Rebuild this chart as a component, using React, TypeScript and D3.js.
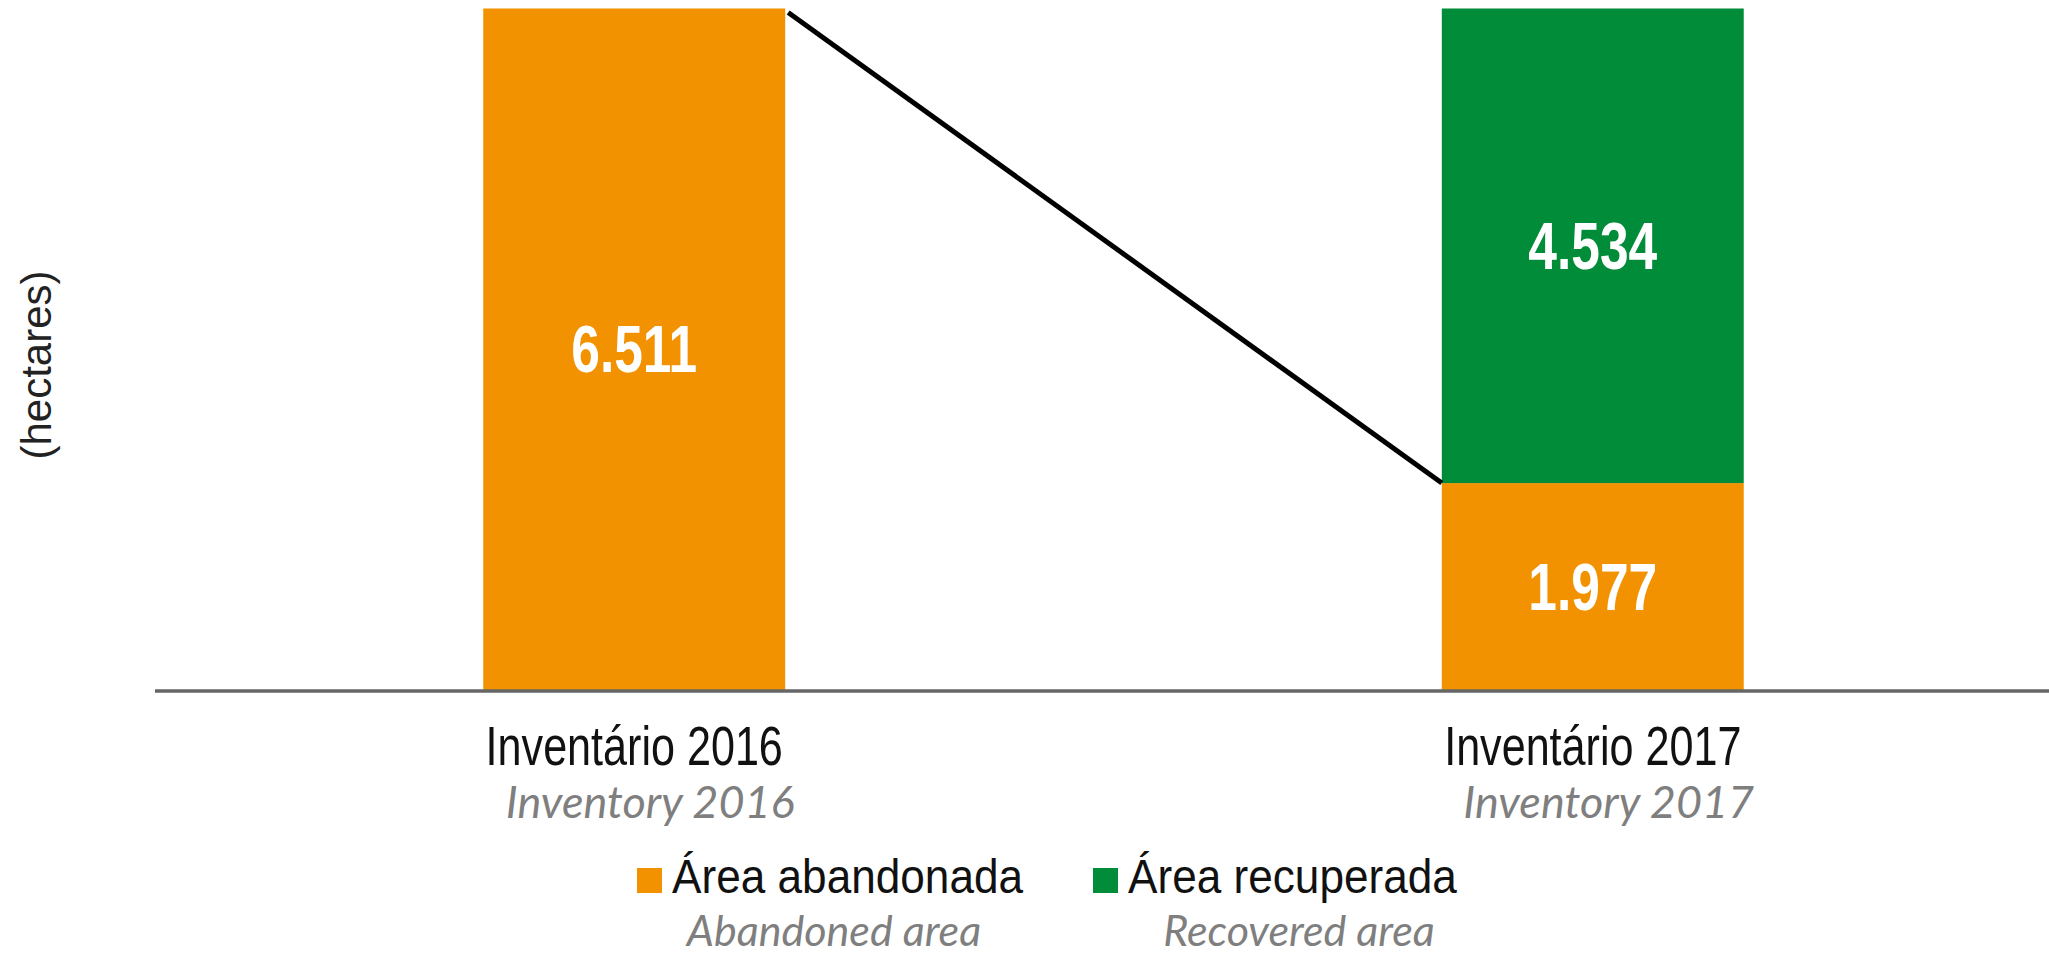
import * as d3 from 'd3';

const categories = ['Inventário 2016', 'Inventário 2017'];
const categoriesEn = ['Inventory 2016', 'Inventory 2017'];
const abandoned = [6511, 1977];
const recovered = [0, 4534];
const seriesKeys = ['abandoned', 'recovered'];
const seriesNames = ['Área abandonada', 'Área recuperada'];
const seriesNamesEn = ['Abandoned area', 'Recovered area'];
const seriesColors = ['#F29200', '#008C38'];

const width = 2049;
const height = 957;
const plotTop = 8.5;
const plotBottom = 690;

const fmt = d3
    .formatLocale({ decimal: ',', thousands: '.', grouping: [3], currency: ['R$', ''] })
    .format(',d');

const App = () => {
    const rows = categories.map((c, i) => ({
        category: c,
        abandoned: abandoned[i],
        recovered: recovered[i],
    }));
    const stacked = d3.stack<any>().keys(seriesKeys)(rows);

    const x = d3
        .scaleBand()
        .domain(categories)
        .range([4, 2223])
        .paddingInner(0.685)
        .paddingOuter(0.5);
    const bw = x.bandwidth();

    const totals = rows.map(r => r.abandoned + r.recovered);
    const y = d3
        .scaleLinear()
        .domain([0, d3.max(totals) ?? 0])
        .range([plotBottom, plotTop]);

    const color = d3.scaleOrdinal<string, string>().domain(seriesKeys).range(seriesColors);

    // connector: top of first bar -> top of abandoned segment in second bar
    const lx1 = (x(categories[0]) ?? 0) + bw + 3;
    const ly1 = y(totals[0]) + 4;
    const lx2 = x(categories[1]) ?? 0;
    const ly2 = y(abandoned[1]);

    const legendX = [637, 1093];
    const legendEnX = [834, 1299];
    const legendGap = 10;
    const sq = 25;

    return (
        <svg
            width={width}
            height={height}
            style={{ position: 'absolute', left: 0, top: 0, background: '#fff' }}
        >
            {/* bars */}
            {stacked.map(layer =>
                layer.map((d, i) =>
                    d[1] - d[0] > 0 ? (
                        <rect
                            key={layer.key + i}
                            x={x(categories[i])}
                            y={y(d[1])}
                            width={bw}
                            height={y(d[0]) - y(d[1])}
                            fill={color(layer.key)}
                        />
                    ) : null
                )
            )}
            {/* value labels */}
            {stacked.map(layer =>
                layer.map((d, i) => {
                    const v = d[1] - d[0];
                    if (v <= 0) return null;
                    const cx = (x(categories[i]) ?? 0) + bw / 2;
                    const cy = (y(d[0]) + y(d[1])) / 2;
                    return (
                        <text
                            key={'v' + layer.key + i}
                            transform={`translate(${cx},${cy + 23}) scale(0.78,1)`}
                            textAnchor="middle"
                            fill="#fff"
                            fontFamily="'Liberation Sans', Arial, sans-serif"
                            fontWeight="bold"
                            fontSize={66}
                        >
                            {fmt(v)}
                        </text>
                    );
                })
            )}
            {/* connector line */}
            <line x1={lx1} y1={ly1} x2={lx2} y2={ly2} stroke="#000" strokeWidth={5} />
            {/* x axis */}
            <line x1={155} x2={width} y1={691} y2={691} stroke="#666" strokeWidth={3.5} />
            {categories.map((c, i) => {
                const cx = (x(c) ?? 0) + bw / 2;
                return (
                    <g key={c}>
                        <text
                            transform={`translate(${cx},765) scale(0.77,1)`}
                            textAnchor="middle"
                            fill="#111"
                            fontFamily="'Liberation Sans', Arial, sans-serif"
                            fontSize={56}
                        >
                            {c}
                        </text>
                        <text
                            x={cx + 16}
                            y={818}
                            textAnchor="middle"
                            fill="#7F7F7F"
                            fontFamily="Lato, 'Open Sans', sans-serif"
                            fontStyle="italic"
                            fontSize={45}
                        >
                            {categoriesEn[i]}
                        </text>
                    </g>
                );
            })}
            {/* y label */}
            <text
                transform="translate(51,365) rotate(-90)"
                textAnchor="middle"
                fill="#222"
                fontFamily="'Liberation Sans', Arial, sans-serif"
                fontSize={42}
            >
                (hectares)
            </text>
            {/* legend */}
            {seriesKeys.map((k, i) => (
                <g key={k}>
                    <rect x={legendX[i]} y={868} width={sq} height={sq} fill={color(k)} />
                    <text
                        transform={`translate(${legendX[i] + sq + legendGap},893) scale(0.92,1)`}
                        fill="#111"
                        fontFamily="'Liberation Sans', Arial, sans-serif"
                        fontSize={48}
                    >
                        {seriesNames[i]}
                    </text>
                    <text
                        x={legendEnX[i]}
                        y={946}
                        textAnchor="middle"
                        fill="#7F7F7F"
                        fontFamily="Lato, 'Open Sans', sans-serif"
                        fontStyle="italic"
                        fontSize={43}
                    >
                        {seriesNamesEn[i]}
                    </text>
                </g>
            ))}
        </svg>
    );
};

export default App;
